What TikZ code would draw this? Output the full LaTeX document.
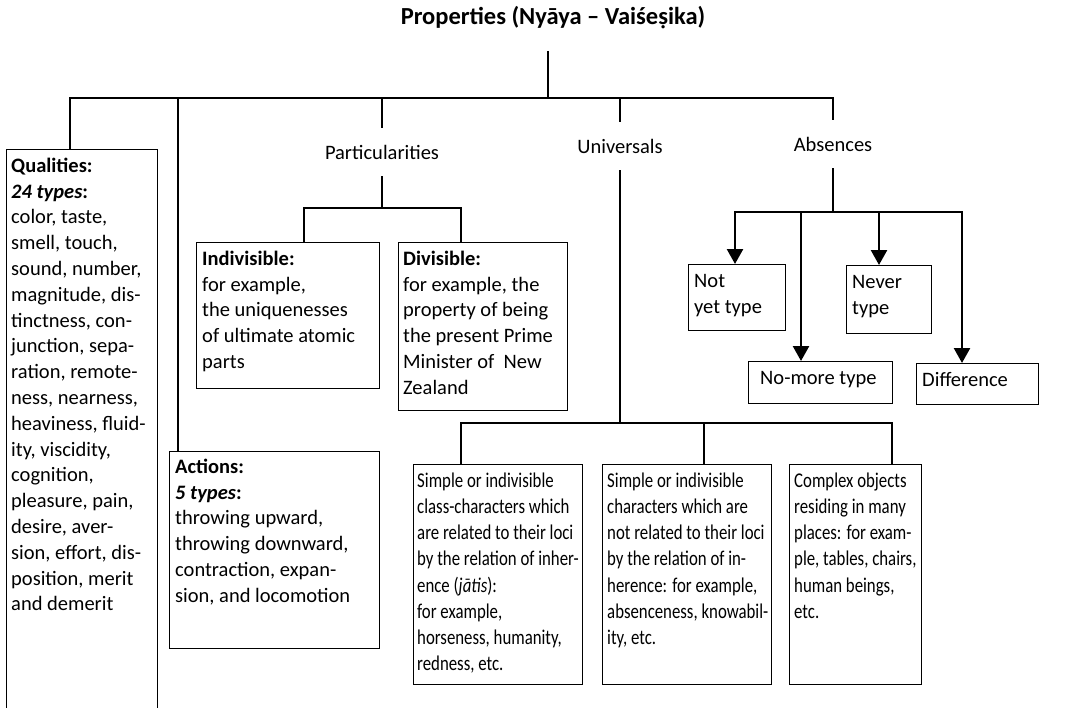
\documentclass[tikz,border=0pt]{standalone}
\usepackage{fontspec}
\setmainfont{Carlito}
\newfontfamily\narrowfont[FakeStretch=0.8]{Carlito}
\usetikzlibrary{arrows.meta,positioning}
\newcommand{\topgap}{\rule{0pt}{23pt}}

\begin{document}
\begin{tikzpicture}[x=1pt,y=-1pt,>=Stealth,
  link/.style={line width=2.5pt},
  arr/.style={line width=2.5pt,-{Triangle[length=15pt,width=16pt]}},
  box/.style={draw,line width=1.3pt,anchor=north west,inner sep=0pt},
  txt/.style={anchor=north west,align=left,inner sep=0pt,font=\fontsize{20.5}{25.8}\selectfont},
  ntxt/.style={txt,font=\narrowfont\fontsize{21}{26.2}\selectfont},
  cat/.style={inner sep=0pt,minimum height=48pt,font=\fontsize{20.5}{24}\selectfont}]
  \useasboundingbox (0,0) rectangle (1071,707);
  \clip (0,0) rectangle (1071,707);

  % Titel
  \node[font=\bfseries\fontsize{24.5}{28}\selectfont] (title) at (553,18) {Properties (Nyāya – Vaiśeṣika)};

  % drei Kategorien mit Beschriftung
  \node[cat] (part) at (382,152) {Particularities};
  \node[cat] (uni) at (620,146) {Universals};
  \node[cat] (abs) at (833,144) {Absences};

  % Kästen
  \node[box,minimum width=151pt,minimum height=600pt] (qual) at (6,149) {};
  \node[box,minimum width=210pt,minimum height=197pt] (acts) at (169,451) {};
  \node[box,minimum width=183pt,minimum height=146pt] (indiv) at (196,242) {};
  \node[box,minimum width=169pt,minimum height=168pt] (divis) at (398,242) {};
  \node[box,minimum width=169pt,minimum height=220pt] (simp1) at (413,464) {};
  \node[box,minimum width=169pt,minimum height=220pt] (simp2) at (602,464) {};
  \node[box,minimum width=132pt,minimum height=220pt] (cmplx) at (789,464) {};
  \node[box,minimum width=97pt,minimum height=66pt] (notyet) at (688,264) {};
  \node[box,minimum width=85pt,minimum height=68pt] (never) at (846,265) {};
  \node[box,minimum width=144pt,minimum height=42pt] (nomore) at (748,361) {};
  \node[box,minimum width=122pt,minimum height=41pt] (diff) at (916,363) {};

  % Texte in den Kästen
  \node[txt] (qualT) at ([xshift=5pt]qual.north west)
    {\topgap\textbf{Qualities:}\\\textbf{\textit{24 types}:}\\color, taste,\\smell, touch,\\sound, number,\\magnitude, dis-\\tinctness, con-\\junction, sepa-\\ration, remote-\\ness, nearness,\\heaviness, fluid-\\ity, viscidity,\\cognition,\\pleasure, pain,\\desire, aver-\\sion, effort, dis-\\position, merit\\and demerit};
  \node[txt] (actsT) at ([xshift=6pt,yshift=1pt]acts.north west)
    {\topgap\textbf{Actions:}\\\textbf{\textit{5 types}:}\\throwing upward,\\throwing downward,\\contraction, expan-\\sion, and locomotion};
  \node[txt] (indivT) at ([xshift=6pt]indiv.north west)
    {\topgap\textbf{Indivisible:}\\for example,\\the uniquenesses\\of ultimate atomic\\parts};
  \node[txt] (divisT) at ([xshift=5pt]divis.north west)
    {\topgap\textbf{Divisible:}\\for example, the\\property of being\\the present Prime\\Minister of\ \ New\\Zealand};
  \node[ntxt] (simp1T) at ([xshift=4pt]simp1.north west)
    {\topgap Simple or indivisible\\class-characters which\\are related to their loci\\by the relation of inher-\\ence (\textit{jātis}):\\for example,\\horseness, humanity,\\redness, etc.};
  \node[ntxt] (simp2T) at ([xshift=5pt]simp2.north west)
    {\topgap Simple or indivisible\\characters which are\\not related to their loci\\by the relation of in-\\herence: for example,\\absenceness, knowabil-\\ity, etc.};
  \node[ntxt] (cmplxT) at ([xshift=5pt]cmplx.north west)
    {\topgap Complex objects\\residing in many\\places: for exam-\\ple, tables, chairs,\\human beings,\\etc.};
  \node[txt] (notyetT) at ([xshift=6pt]notyet.north west) {\topgap Not\\yet type};
  \node[txt] (neverT) at ([xshift=6pt]never.north west) {\topgap Never\\type};
  \node[txt] (nomoreT) at ([xshift=12pt]nomore.north west) {\topgap No-more type};
  \node[txt] (diffT) at ([xshift=6pt]diff.north west) {\topgap Difference};

  % Knotenpunkte
  \coordinate (bar) at (548,98);
  \coordinate (qualtop) at (70,149);
  \coordinate (actstop) at (178,451);
  \coordinate (pbar) at (382,208);
  \coordinate (indivtop) at (304,242);
  \coordinate (divistop) at (461,242);
  \coordinate (ubar) at (620,423);
  \coordinate (simp1top) at (461,464);
  \coordinate (simp2top) at (704,464);
  \coordinate (cmplxtop) at (892,464);
  \coordinate (abar) at (833,212);
  \coordinate (notyettop) at (735,264);
  \coordinate (nomoretop) at (801,361);
  \coordinate (nevertop) at (879,265);
  \coordinate (difftop) at (962,363);

  % Verbindungen
  \draw[link,shorten <=18pt] (title.south -| bar) -- (bar);
  \draw[link] (qualtop) |- (bar) -| (abs.north);
  \draw[link] (actstop) -- (actstop |- bar);
  \draw[link] (part.north) -- (part.north |- bar);
  \draw[link] (uni.north) -- (uni.north |- bar);

  \draw[link] (part.south) -- (pbar);
  \draw[link] (indivtop) |- (pbar) -| (divistop);

  \draw[link] (uni.south) -- (ubar);
  \draw[link] (simp1top) |- (ubar) -| (cmplxtop);
  \draw[link] (simp2top) -- (simp2top |- ubar);

  \draw[link] (abs.south) -- (abar);
  \draw[arr] (abar) -| (notyettop);
  \draw[arr] (abar) -| (difftop);
  \draw[arr] (nomoretop |- abar) -- (nomoretop);
  \draw[arr] (nevertop |- abar) -- (nevertop);
\end{tikzpicture}
\end{document}
